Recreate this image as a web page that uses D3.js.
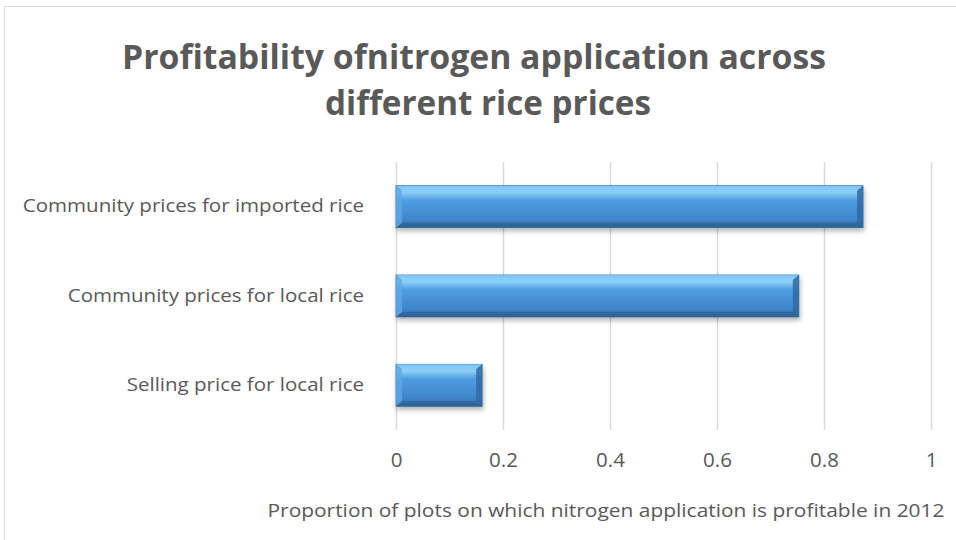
<!DOCTYPE html>
<html>
<head>
<meta charset="utf-8">
<script src="https://cdn.jsdelivr.net/npm/d3@7"></script>
<style>
  body { margin: 0; background: #fff; }
  text { font-family: "Open Sans", "Liberation Sans", sans-serif; }
</style>
</head>
<body>
<div id="chart"></div>
<script>
const w = 956;
const h = 540;

const categories = ["Community prices for imported rice", "Community prices for local rice", "Selling price for local rice"];
const values = [0.873, 0.753, 0.161];
const ticks = [0, 0.2, 0.4, 0.6, 0.8, 1];
const titleLines = ["Profitability ofnitrogen application across", "different rice prices"];
const axisTitle = "Proportion of plots on which nitrogen application is profitable in 2012";

const plot = { left: 396, right: 931, top: 162, bottom: 430 };

// stretch text horizontally a bit, Calibri-ish proportions
function stretch(sel, k) {
    sel.each(function () {
        let len = this.getComputedTextLength();
        d3.select(this)
            .attr("textLength", len * k)
            .attr("lengthAdjust", "spacingAndGlyphs");
    });
}

let svg = d3.select("#chart").append("svg")
    .attr("width", w)
    .attr("height", h);

let defs = svg.append("defs");
let grad = defs.append("linearGradient")
    .attr("id", "barGrad")
    .attr("x1", 0).attr("y1", 0).attr("x2", 0).attr("y2", 1);
grad.append("stop").attr("offset", "0%").attr("stop-color", "#5aa6e6");
grad.append("stop").attr("offset", "15%").attr("stop-color", "#8fd0f7");
grad.append("stop").attr("offset", "35%").attr("stop-color", "#4f9de0");
grad.append("stop").attr("offset", "80%").attr("stop-color", "#3f86cb");
grad.append("stop").attr("offset", "100%").attr("stop-color", "#2f6399");

let shadow = defs.append("filter").attr("id", "shadow")
    .attr("x", "-5%").attr("y", "-20%").attr("width", "115%").attr("height", "160%");
shadow.append("feDropShadow")
    .attr("dx", 1).attr("dy", 3).attr("stdDeviation", 2.5)
    .attr("flood-color", "#000").attr("flood-opacity", 0.3);

// chart border
svg.append("rect")
    .attr("x", 4.5).attr("y", 6.5)
    .attr("width", w).attr("height", h)
    .attr("fill", "none")
    .attr("stroke", "#d9d9d9");

svg.append("g")
    .selectAll("text")
    .data(titleLines)
    .join("text")
    .attr("x", (d, i) => i === 0 ? 474 : 488)
    .attr("y", (d, i) => 69 + i * 46)
    .attr("text-anchor", "middle")
    .attr("font-size", 34)
    .attr("font-weight", "bold")
    .attr("fill", "#595959")
    .attr("textLength", (d, i) => i === 0 ? 704 : 326)
    .attr("lengthAdjust", "spacingAndGlyphs")
    .text(d => d);

let xScale = d3.scaleLinear()
    .domain([0, 1])
    .range([plot.left, plot.right]);

let yScale = d3.scaleBand()
    .domain(categories)
    .range([plot.top, plot.bottom])
    .paddingInner(0.53)
    .paddingOuter(0.265);

// gridlines
svg.append("g")
    .selectAll("line")
    .data(ticks)
    .join("line")
    .attr("x1", d => Math.round(xScale(d)) + 0.5)
    .attr("x2", d => Math.round(xScale(d)) + 0.5)
    .attr("y1", plot.top)
    .attr("y2", plot.bottom)
    .attr("stroke", "#d9d9d9")
    .attr("stroke-width", 1.5);

// x axis labels
let xAxis = svg.append("g")
    .attr("transform", "translate(0," + (plot.bottom + 17) + ")")
    .call(d3.axisBottom(xScale).tickValues(ticks).tickSize(0).tickFormat(d3.format("")));
xAxis.select(".domain").remove();
xAxis.selectAll("text")
    .attr("font-family", "'Open Sans', sans-serif")
    .attr("font-size", 20.5)
    .attr("fill", "#595959")
    .attr("dy", "0.85em");

// y axis labels
let yAxis = svg.append("g")
    .attr("transform", "translate(" + (plot.left - 29) + ",0)")
    .call(d3.axisLeft(yScale).tickSize(0));
yAxis.select(".domain").remove();
yAxis.selectAll("text")
    .attr("font-family", "'Open Sans', sans-serif")
    .attr("font-size", 19)
    .attr("fill", "#595959")
    .attr("dy", "0.3em");
stretch(yAxis.selectAll("text"), 1.08);

// bars
let bw = 6, bh = 5;
let bars = svg.append("g")
    .selectAll("g")
    .data(categories.map((c, i) => ({ c: c, v: values[i] })))
    .join("g")
    .attr("filter", "url(#shadow)");

bars.append("rect")
    .attr("x", xScale(0))
    .attr("y", d => yScale(d.c))
    .attr("width", d => xScale(d.v) - xScale(0))
    .attr("height", yScale.bandwidth())
    .attr("fill", "url(#barGrad)")
    .attr("stroke", "#3a70a8")
    .attr("stroke-width", 0.8);

// bevel edges
bars.append("path")
    .attr("d", d => {
        let x0 = xScale(0), x1 = xScale(d.v), y0 = yScale(d.c);
        return `M${x0},${y0}L${x1},${y0}L${x1 - bw},${y0 + bh}L${x0 + bw},${y0 + bh}Z`;
    })
    .attr("fill", "#8ad0f8").attr("opacity", 0.75);
bars.append("path")
    .attr("d", d => {
        let x0 = xScale(0), x1 = xScale(d.v), y1 = yScale(d.c) + yScale.bandwidth();
        return `M${x0},${y1}L${x1},${y1}L${x1 - bw},${y1 - bh}L${x0 + bw},${y1 - bh}Z`;
    })
    .attr("fill", "#2d6296").attr("opacity", 0.7);
bars.append("path")
    .attr("d", d => {
        let x0 = xScale(0), y0 = yScale(d.c), y1 = y0 + yScale.bandwidth();
        return `M${x0},${y0}L${x0 + bw},${y0 + bh}L${x0 + bw},${y1 - bh}L${x0},${y1}Z`;
    })
    .attr("fill", "#5ea9e6").attr("opacity", 0.8);
bars.append("path")
    .attr("d", d => {
        let x1 = xScale(d.v), y0 = yScale(d.c), y1 = y0 + yScale.bandwidth();
        return `M${x1},${y0}L${x1 - bw},${y0 + bh}L${x1 - bw},${y1 - bh}L${x1},${y1}Z`;
    })
    .attr("fill", "#2f6aa3").attr("opacity", 0.85);

let axisLabel = svg.append("text")
    .attr("x", 606)
    .attr("y", 517)
    .attr("text-anchor", "middle")
    .attr("font-size", 19)
    .attr("fill", "#595959")
    .text(axisTitle);
axisLabel.attr("textLength", 677).attr("lengthAdjust", "spacingAndGlyphs");
</script>
</body>
</html>
